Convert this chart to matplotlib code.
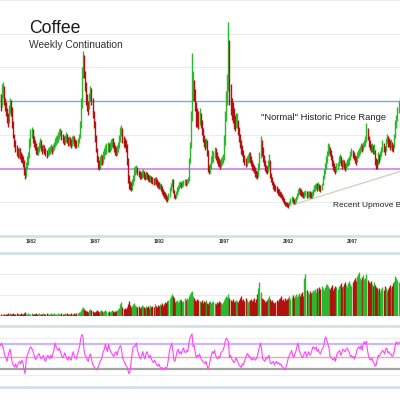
import numpy as np
import matplotlib
matplotlib.use("Agg")
import matplotlib.pyplot as plt

plt.rcParams['font.family'] = ['Liberation Sans', 'DejaVu Sans']

# monthly bars, first one is July 1979, last one Sep 2010
start_year = 1979.5

# monthly high / low, cents per lb
high = [212, 210, 225, 228, 222, 205,                                 # 1979 (Jul-Dec)
        198, 190, 182, 195, 205, 202, 192, 170, 152, 142, 135, 130,   # 1980
        132, 130, 125, 122, 118, 112, 102, 110, 118, 125, 145, 158,   # 1981
        162, 158, 148, 142, 138, 132, 134, 140, 145, 142, 135, 136,   # 1982
        135, 130, 128, 130, 132, 134, 136, 134, 136, 140, 146, 148,   # 1983
        150, 154, 158, 160, 157, 152, 148, 150, 154, 152, 147, 148,   # 1984
        147, 144, 148, 150, 148, 144, 142, 146, 152, 170, 205, 250,   # 1985
        275, 268, 245, 228, 210, 200, 212, 222, 220, 205, 185, 170,   # 1986
        150, 130, 118, 112, 118, 122, 120, 126, 130, 135, 138, 140,   # 1987
        138, 140, 144, 146, 145, 140, 135, 132, 135, 140, 150, 162,   # 1988
        165, 160, 148, 145, 142, 136, 115, 90, 82, 80, 84, 90,        # 1989
        102, 104, 106, 102, 98, 96, 95, 98, 100, 97, 94, 96,          # 1990
        95, 92, 90, 90, 89, 88, 86, 88, 87, 84, 82, 80,               # 1991
        79, 77, 74, 70, 67, 65, 62, 60, 64, 72, 78, 85,               # 1992
        84, 68, 63, 67, 72, 76, 80, 82, 80, 81, 83, 85,               # 1993
        84, 85, 88, 115, 140, 185, 272, 245, 232, 218, 198, 190,      # 1994
        185, 190, 182, 172, 160, 150, 144, 146, 142, 128, 106, 108,   # 1995
        118, 128, 126, 132, 130, 124, 118, 115, 112, 116, 118, 122,   # 1996
        150, 185, 215, 240, 318, 290, 225, 205, 198, 190, 180, 182,   # 1997
        182, 172, 162, 152, 142, 135, 128, 120, 116, 118, 122, 125,   # 1998
        124, 118, 112, 108, 106, 102, 98, 96, 108, 125, 148, 142,     # 1999
        132, 120, 112, 106, 104, 112, 122, 112, 94, 88, 82, 78,       # 2000
        76, 74, 71, 69, 67, 65, 63, 60, 56, 52, 50, 50,               # 2001
        49, 52, 56, 59, 58, 55, 56, 59, 64, 69, 72, 71,               # 2002
        70, 67, 65, 66, 68, 66, 66, 67, 66, 65, 66, 70,               # 2003
        75, 77, 79, 78, 80, 77, 76, 79, 90, 100, 108, 118,            # 2004
        126, 138, 137, 132, 128, 120, 112, 108, 104, 108, 110, 118,   # 2005
        122, 118, 112, 114, 112, 108, 110, 114, 116, 118, 126, 130,   # 2006
        128, 124, 120, 118, 124, 128, 130, 134, 138, 136, 140, 143,   # 2007
        148, 168, 160, 148, 142, 136, 138, 135, 136, 128, 116, 114,   # 2008
        125, 122, 126, 132, 142, 138, 134, 146, 152, 148, 145, 142,   # 2009
        144, 140, 137, 152, 172, 180, 192, 200, 206]                  # 2010 (Jan-Sep)

low = [190, 185, 192, 205, 195, 185,
       178, 168, 162, 168, 182, 178, 160, 145, 132, 125, 118, 115,
       115, 114, 110, 108, 102, 90, 85, 88, 100, 106, 115, 132,
       145, 138, 132, 128, 122, 120, 120, 125, 130, 126, 122, 124,
       122, 118, 115, 118, 120, 122, 124, 122, 124, 128, 132, 135,
       138, 140, 144, 148, 143, 138, 135, 137, 140, 138, 133, 135,
       133, 130, 134, 138, 134, 131, 130, 132, 138, 145, 160, 190,
       235, 235, 215, 195, 185, 180, 188, 200, 195, 175, 160, 140,
       125, 110, 100, 98, 100, 106, 105, 108, 114, 120, 122, 125,
       124, 125, 128, 132, 130, 125, 120, 118, 120, 124, 130, 140,
       148, 138, 132, 130, 125, 105, 78, 70, 68, 66, 68, 76,
       82, 90, 94, 90, 87, 85, 84, 86, 88, 85, 83, 84,
       84, 81, 80, 80, 78, 77, 75, 77, 75, 73, 71, 69,
       70, 67, 63, 60, 57, 55, 52, 50, 54, 58, 66, 72,
       64, 57, 55, 57, 61, 65, 70, 73, 71, 72, 74, 75,
       74, 76, 78, 82, 108, 130, 170, 200, 200, 185, 162, 162,
       158, 165, 160, 150, 140, 132, 128, 130, 118, 95, 92, 94,
       100, 108, 110, 115, 113, 108, 104, 102, 100, 103, 106, 108,
       112, 135, 170, 195, 215, 195, 180, 172, 168, 158, 155, 160,
       160, 150, 140, 130, 122, 118, 110, 106, 102, 104, 108, 110,
       108, 104, 98, 96, 94, 88, 86, 84, 88, 98, 115, 118,
       110, 104, 96, 94, 92, 95, 102, 86, 80, 75, 70, 67,
       66, 64, 61, 59, 58, 56, 54, 50, 47, 45, 44, 43,
       42, 44, 48, 51, 49, 47, 48, 51, 55, 60, 63, 61,
       60, 58, 56, 57, 59, 56, 57, 58, 57, 56, 57, 60,
       65, 67, 69, 67, 69, 67, 65, 68, 76, 84, 92, 100,
       108, 118, 122, 118, 112, 104, 98, 95, 92, 95, 98, 104,
       108, 104, 100, 102, 99, 97, 98, 102, 104, 106, 112, 118,
       116, 112, 108, 106, 110, 116, 118, 122, 126, 124, 128, 132,
       133, 140, 142, 132, 128, 124, 125, 121, 122, 106, 100, 100,
       106, 108, 112, 118, 124, 124, 120, 126, 138, 132, 132, 128,
       130, 126, 124, 130, 145, 160, 170, 182, 188]

# volume (arbitrary units, panel top = 63)
volume = [1, 2, 1, 2, 2, 1,
          2, 2, 3, 2, 3, 2, 2, 3, 2, 2, 3, 2,
          2, 2, 3, 2, 2, 3, 4, 2, 2, 3, 2, 2,
          3, 2, 2, 2, 3, 2, 2, 3, 2, 2, 2, 3,
          2, 2, 3, 2, 2, 2, 3, 2, 2, 3, 2, 2,
          2, 3, 2, 2, 3, 2, 2, 3, 2, 3, 2, 2,
          2, 3, 2, 2, 3, 2, 3, 3, 4, 4, 6, 8,
          9, 7, 6, 5, 5, 4, 6, 7, 6, 5, 4, 4,
          5, 6, 5, 4, 5, 6, 5, 4, 5, 6, 5, 4,
          5, 4, 5, 6, 5, 4, 5, 5, 6, 7, 8, 12,
          14, 9, 7, 8, 7, 9, 12, 15, 11, 9, 10, 12,
          13, 11, 10, 9, 10, 8, 9, 11, 10, 9, 8, 10,
          9, 10, 8, 11, 9, 10, 9, 12, 10, 9, 11, 10,
          12, 11, 13, 10, 12, 14, 13, 15, 16, 18, 20, 22,
          20, 18, 14, 15, 16, 14, 15, 17, 16, 14, 15, 18,
          16, 18, 17, 20, 22, 24, 25, 20, 18, 16, 15, 17,
          16, 15, 14, 16, 13, 15, 14, 16, 13, 12, 14, 15,
          13, 14, 15, 13, 12, 14, 13, 15, 14, 13, 12, 14,
          16, 18, 20, 19, 22, 18, 16, 15, 17, 14, 15, 16,
          15, 14, 16, 18, 20, 16, 17, 15, 18, 16, 14, 15,
          16, 17, 15, 16, 18, 14, 17, 22, 28, 34, 24, 18,
          17, 16, 14, 15, 16, 18, 20, 17, 15, 16, 14, 13,
          14, 16, 15, 17, 18, 20, 16, 17, 15, 18, 16, 17,
          18, 20, 17, 19, 21, 18, 20, 22, 19, 21, 23, 20,
          22, 24, 20, 38, 42, 26, 24, 22, 25, 23, 24, 26,
          25, 27, 24, 28, 26, 29, 27, 30, 28, 26, 29, 31,
          32, 30, 28, 27, 29, 31, 26, 28, 30, 29, 27, 30,
          31, 33, 29, 30, 32, 34, 31, 29, 33, 35, 32, 30,
          34, 36, 38, 35, 40, 42, 44, 38, 36, 39, 41, 37,
          38, 42, 36, 34, 33, 35, 32, 30, 34, 31, 29, 28,
          26, 28, 24, 27, 29, 26, 30, 28, 25, 27, 29, 31,
          28, 30, 33, 35, 40, 38, 36, 34, 32]

# oscillator, 0-100
osc = [70, 68, 72, 66, 60, 52,
       48, 42, 50, 58, 62, 50, 40, 35, 33, 38, 32, 36,
       40, 42, 38, 44, 40, 28, 22, 45, 52, 56, 62, 66,
       64, 60, 55, 48, 45, 50, 52, 55, 50, 46, 48, 52,
       46, 42, 48, 52, 50, 46, 52, 48, 55, 62, 72, 66,
       62, 60, 64, 58, 52, 48, 50, 56, 52, 46, 44, 50,
       46, 44, 52, 58, 50, 48, 46, 55, 60, 68, 80, 86,
       84, 62, 52, 50, 45, 42, 50, 54, 46, 38, 34, 32,
       30, 28, 32, 36, 42, 44, 50, 58, 62, 70, 64, 58,
       70, 62, 58, 55, 52, 50, 56, 58, 52, 60, 64, 68,
       64, 48, 44, 40, 36, 34, 28, 22, 25, 40, 55, 66,
       66, 68, 72, 60, 54, 48, 46, 52, 58, 50, 46, 55,
       58, 52, 48, 52, 46, 42, 40, 44, 40, 36, 34, 38,
       33, 30, 32, 29, 30, 32, 30, 35, 48, 60, 66, 72,
       60, 44, 42, 50, 58, 62, 55, 58, 54, 60, 64, 58,
       56, 60, 58, 72, 80, 84, 87, 66, 68, 56, 48, 52,
       50, 54, 48, 44, 42, 40, 38, 42, 35, 30, 34, 45,
       52, 58, 55, 60, 52, 48, 46, 50, 48, 56, 58, 60,
       66, 75, 80, 78, 74, 48, 52, 46, 44, 40, 42, 48,
       44, 40, 36, 34, 32, 38, 36, 42, 48, 52, 55, 50,
       50, 46, 44, 48, 46, 44, 46, 50, 58, 66, 72, 62,
       46, 44, 42, 48, 46, 50, 52, 40, 38, 40, 42, 36,
       40, 42, 38, 40, 36, 38, 34, 32, 30, 28, 34, 40,
       48, 52, 56, 60, 52, 48, 54, 58, 66, 72, 62, 56,
       52, 48, 50, 56, 58, 50, 54, 58, 52, 54, 60, 66,
       64, 62, 66, 58, 62, 56, 54, 60, 64, 66, 78, 82,
       76, 70, 64, 50, 48, 46, 44, 48, 42, 52, 55, 58,
       60, 52, 56, 62, 60, 58, 62, 64, 60, 56, 50, 52,
       48, 50, 46, 52, 60, 64, 66, 62, 68, 60, 70, 74,
       70, 75, 60, 50, 46, 44, 48, 42, 40, 34, 36, 44,
       52, 50, 55, 56, 60, 58, 54, 62, 64, 56, 58, 54,
       54, 50, 52, 58, 70, 74, 70, 72, 73]

year_ticks = [1982, 1987, 1992, 1997, 2002, 2007]
trend_x = [2002.0, 2010.8]
trend_y = [44, 96]

n = min(len(high), len(low), len(volume), len(osc))
high = np.array(high[:n], dtype=float)
low = np.array(low[:n], dtype=float)
volume = np.array(volume[:n], dtype=float)
osc = np.array(osc[:n], dtype=float)
t = start_year + (np.arange(n) + 0.5) / 12

mid = (high + low) / 2
up = np.r_[True, mid[1:] >= mid[:-1]]
green = '#2cb82c'
red = '#b31010'
cols = np.where(up, green, red)

x0 = 1982 - 31 / 12.84
x1 = 1982 + 369 / 12.84
border = '#d2e2ea'
grid = '#ececec'

fig = plt.figure(figsize=(4, 4), dpi=100)

# price panel
ax = fig.add_axes([0, 1 - 236 / 400, 1, 236 / 400])
ax.set_xlim(x0, x1)
ax.set_ylim(0, 350)
for v in [50, 150, 250, 300, 350]:
    ax.axhline(v, color=grid, lw=0.8, zorder=0)
ax.axhline(200, color='#72aaf2', lw=1.0, zorder=1)
ax.axhline(100, color='#d27cf0', lw=1.2, zorder=1)
ax.axhline(0, color=border, lw=2.0, clip_on=False, zorder=3)
ax.vlines(t, low, high, colors=cols, lw=1.0, zorder=2)
ax.plot(trend_x, trend_y, color='#d8d1c2', lw=1.0, zorder=1)
ax.text(1999.9, 172.5, '"Normal" Historic Price Range', fontsize=6.75,
        color='#222222', va='baseline')
# the reference cuts this label at the right edge
ax.text(2005.5, 43.5, 'Recent Upmove Began', fontsize=6.0,
        color='#222222', va='baseline')
ax.set_xticks(year_ticks)
ax.set_xticklabels([str(y) for y in year_ticks], fontsize=3.5,
                   fontweight='bold', color='#333333')
ax.tick_params(axis='x', length=0, pad=2.5)
ax.set_yticks([])
for s in ax.spines.values():
    s.set_visible(False)

# volume panel
axv = fig.add_axes([0, 1 - 316 / 400, 1, 63 / 400])
axv.set_xlim(x0, x1)
axv.set_ylim(0, 63)
for v in [21, 42]:
    axv.axhline(v, color=grid, lw=0.8, zorder=0)
axv.axhline(63, color=border, lw=2.0, clip_on=False)
axv.vlines(t, 0, volume, colors=cols, lw=1.0)
axv.set_xticks([])
axv.set_yticks([])
for s in axv.spines.values():
    s.set_visible(False)

# oscillator panel
axo = fig.add_axes([0, 1 - 387 / 400, 1, 61 / 400])
axo.set_xlim(x0, x1)
axo.set_ylim(0, 100)
axo.axhline(80, color=grid, lw=0.8)
axo.axhline(20, color=grid, lw=0.8)
axo.axhline(70, color='#c9b9fb', lw=1.6)
axo.axhline(50, color='#f4a6a6', lw=1.0)
axo.axhline(30, color='#a3a3a3', lw=1.6)
axo.axhline(100, color=border, lw=2.0, clip_on=False)
axo.axhline(0, color=border, lw=2.0, clip_on=False)
axo.plot(t, osc, color='#ff45ff', lw=0.8)
axo.set_xticks([])
axo.set_yticks([])
for s in axo.spines.values():
    s.set_visible(False)

# titles
fig.text(29 / 400, 1 - 33.3 / 400, 'Coffee', fontsize=12.7, color='#1a1a1a',
         va='baseline')
fig.text(29 / 400, 1 - 47.5 / 400, 'Weekly Continuation', fontsize=7.4,
         color='#333333', va='baseline')

fig.savefig('out.png', dpi=100)
